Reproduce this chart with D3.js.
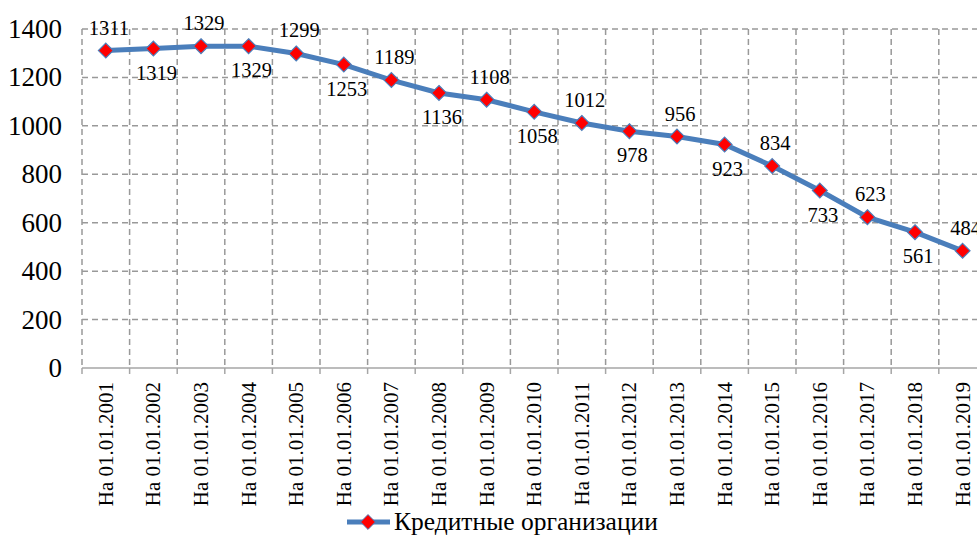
<!DOCTYPE html>
<html><head><meta charset="utf-8">
<script src="https://cdn.jsdelivr.net/npm/d3@7"></script>
<style>body{margin:0;background:#fff}svg{display:block}</style>
</head><body>
<svg id="c" width="977" height="537"></svg>
<script>
const categories = ["На 01.01.2001","На 01.01.2002","На 01.01.2003","На 01.01.2004","На 01.01.2005","На 01.01.2006","На 01.01.2007","На 01.01.2008","На 01.01.2009","На 01.01.2010","На 01.01.2011","На 01.01.2012","На 01.01.2013","На 01.01.2014","На 01.01.2015","На 01.01.2016","На 01.01.2017","На 01.01.2018","На 01.01.2019"];
const values = [1311,1319,1329,1329,1299,1253,1189,1136,1108,1058,1012,978,956,923,834,733,623,561,484];
const yTicks = [0,200,400,600,800,1000,1200,1400];
const seriesName = "Кредитные организации";

(function(){
const FONT = "'Liberation Serif', 'Times New Roman', serif";
const svg = d3.select("#c");
const pL = 82, pT = 29, pB = 368;
const bw = 47.6;
const pR = pL + bw * categories.length;
const x = d3.scaleBand().domain(categories).range([pL, pR]).padding(0);
const y = d3.scaleLinear().domain([0, 1400]).range([pB, pT]);

svg.append("g").selectAll("line").data(yTicks.filter(d => d > 0)).join("line")
  .attr("x1", pL).attr("x2", pR).attr("y1", d => y(d)).attr("y2", d => y(d))
  .attr("stroke", "#999").attr("stroke-width", 1.5).attr("stroke-dasharray", "6,4");
const bounds = categories.map(c => x(c)).concat([pR]);
svg.append("g").selectAll("line").data(bounds).join("line")
  .attr("x1", d => d).attr("x2", d => d).attr("y1", pT).attr("y2", pB)
  .attr("stroke", "#999").attr("stroke-width", 1.5).attr("stroke-dasharray", "6,4");

const xAxis = svg.append("g").attr("transform", `translate(0,${pB})`);
xAxis.append("line").attr("x1", pL).attr("x2", pR).attr("stroke", "#a6a6a6").attr("stroke-width", 1.5);
xAxis.selectAll("line.t").data(bounds).join("line").attr("class","t")
  .attr("x1", d => d).attr("x2", d => d).attr("y1", 0).attr("y2", 6)
  .attr("stroke", "#a6a6a6").attr("stroke-width", 1.5);
xAxis.selectAll("text").data(categories).join("text")
  .attr("transform", d => `translate(${x(d) + x.bandwidth()/2 + 7},14) rotate(-90)`)
  .attr("text-anchor", "end").attr("font-family", FONT).attr("font-size", 21).attr("fill", "#000").text(d => d);

svg.append("g").selectAll("text").data(yTicks).join("text")
  .attr("x", 62).attr("y", d => y(d) + 9).attr("text-anchor", "end")
  .attr("font-family", FONT).attr("font-size", 27).attr("fill", "#000").text(d => d);

const cx = d => x(d) + x.bandwidth()/2;
svg.append("path").datum(values)
  .attr("d", d3.line().x((v, i) => cx(categories[i])).y(v => y(v)))
  .attr("fill", "none").attr("stroke", "#4a7ebb").attr("stroke-width", 5);

const diamond = d3.symbol().type(d3.symbolDiamond2).size(140);
svg.append("g").selectAll("path").data(values).join("path")
  .attr("transform", (v, i) => `translate(${cx(categories[i])},${y(v)})`)
  .attr("d", diamond).attr("fill", "#ff0000").attr("stroke", "#4a7ebb").attr("stroke-width", 1.2);

svg.append("g").selectAll("text").data(values).join("text")
  .attr("x", (v, i) => cx(categories[i]) + 3)
  .attr("y", (v, i) => i % 2 === 0 ? y(v) - 16 : y(v) + 31)
  .attr("text-anchor", "middle").attr("font-family", FONT).attr("font-size", 20.5).attr("fill", "#000").text(v => v);

const lg = svg.append("g");
lg.append("line").attr("x1", 347).attr("x2", 390).attr("y1", 522).attr("y2", 522)
  .attr("stroke", "#4a7ebb").attr("stroke-width", 5);
lg.append("path").attr("transform", "translate(368,522)").attr("d", diamond)
  .attr("fill", "#ff0000").attr("stroke", "#4a7ebb");
lg.append("text").attr("x", 394).attr("y", 530).attr("font-family", FONT).attr("font-size", 25.5).attr("fill", "#000").text(seriesName);
})();
</script>
</body></html>
